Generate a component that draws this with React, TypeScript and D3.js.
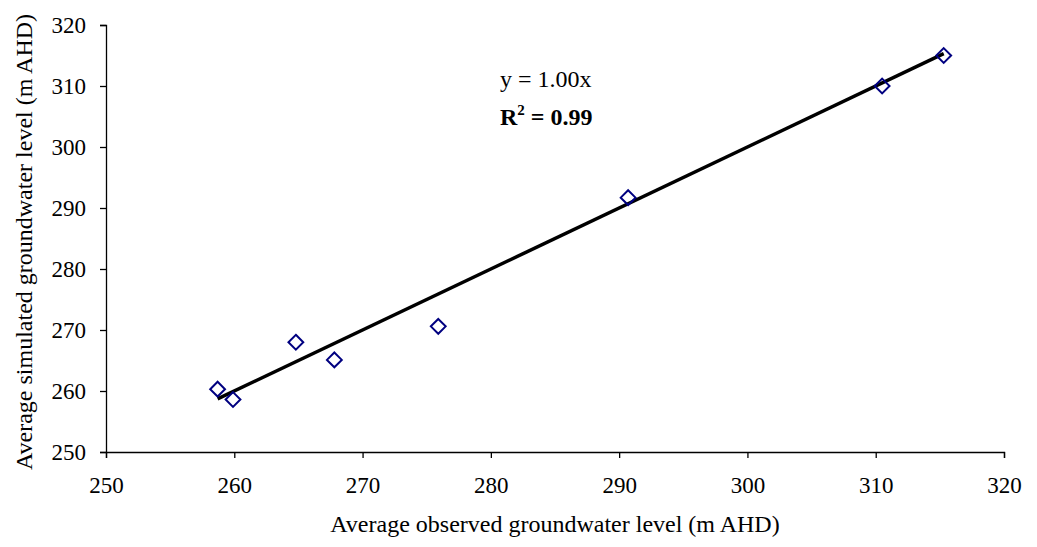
import * as d3 from 'd3';
import { useEffect, useRef } from 'react';

// observed vs simulated groundwater levels (m AHD)
const observed = [258.7, 259.9, 264.8, 267.8, 275.9, 290.7, 310.5, 315.3];
const simulated = [260.3, 258.6, 268.0, 265.1, 270.6, 291.7, 310.0, 315.0];
const xTicks = [250, 260, 270, 280, 290, 300, 310, 320];
const yTicks = [250, 260, 270, 280, 290, 300, 310, 320];
const slope = 1.0;

export default function App() {
  const ref = useRef<SVGSVGElement>(null);

  useEffect(() => {
    const svg = d3.select(ref.current);
    svg.selectAll('*').remove();

    const font = '"Liberation Serif", "Times New Roman", serif';
    const left = 106, right = 1004, top = 25, bottom = 452;

    const x = d3.scaleLinear().domain([250, 320]).range([left, right]);
    const y = d3.scaleLinear().domain([250, 320]).range([bottom, top]);

    const gx = svg.append('g')
      .attr('transform', `translate(0,${bottom})`)
      .call(d3.axisBottom(x).tickValues(xTicks).tickSize(6).tickSizeOuter(6).tickPadding(19));
    const gy = svg.append('g')
      .attr('transform', `translate(${left},0)`)
      .call(d3.axisLeft(y).tickValues(yTicks).tickSize(6).tickSizeOuter(6).tickPadding(14));

    [gx, gy].forEach(g => {
      g.select('.domain').attr('stroke', '#000').attr('stroke-width', 1.3);
      g.selectAll('.tick line').attr('stroke', '#000').attr('stroke-width', 1.3);
      g.selectAll('.tick text')
        .attr('fill', '#000')
        .style('font-family', font)
        .style('font-size', '23px');
    });
    gy.selectAll('.tick text').attr('dy', '0.34em');

    // trendline over data extent
    const [x0, x1] = d3.extent(observed) as [number, number];
    svg.append('line')
      .attr('x1', x(x0)).attr('y1', y(slope * x0))
      .attr('x2', x(x1)).attr('y2', y(slope * x1))
      .attr('stroke', '#000')
      .attr('stroke-width', 3.5);

    const pts = observed.map((o, i) => [o, simulated[i]]);
    svg.selectAll('path.pt').data(pts).enter().append('path')
      .attr('class', 'pt')
      .attr('d', d3.symbol().type(d3.symbolDiamond2).size(140))
      .attr('transform', d => `translate(${x(d[0])},${y(d[1])})`)
      .attr('fill', 'none')
      .attr('stroke', '#000080')
      .attr('stroke-width', 2);

    svg.append('text')
      .attr('x', 500).attr('y', 87)
      .style('font-family', font).style('font-size', '24px')
      .text('y = 1.00x');

    const r2 = svg.append('text')
      .attr('x', 500).attr('y', 125)
      .style('font-family', font).style('font-size', '24px')
      .style('font-weight', 'bold');
    r2.append('tspan').text('R');
    r2.append('tspan').attr('dy', -10).style('font-size', '15px').text('2');
    r2.append('tspan').attr('dy', 10).text(' = 0.99');

    svg.append('text')
      .attr('x', 555).attr('y', 532)
      .attr('text-anchor', 'middle')
      .style('font-family', font).style('font-size', '24px')
      .text('Average observed groundwater level (m AHD)');

    svg.append('text')
      .attr('transform', `translate(32,242) rotate(-90)`)
      .attr('text-anchor', 'middle')
      .style('font-family', font).style('font-size', '24px')
      .text('Average simulated groundwater level (m AHD)');
  }, []);

  return <svg ref={ref} width={1037} height={547} style={{ display: 'block', position: 'absolute', left: 0, top: 0 }} />;
}
